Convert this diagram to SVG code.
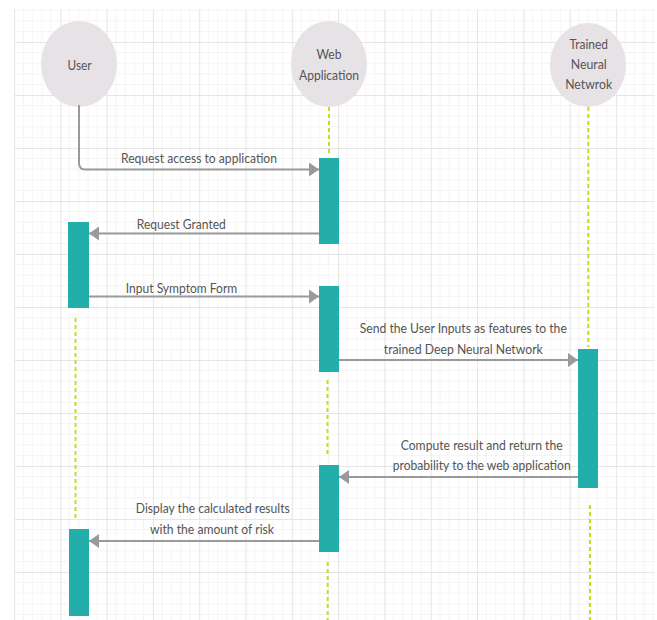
<svg xmlns="http://www.w3.org/2000/svg" width="657" height="620" viewBox="0 0 657 620">
<defs>
<pattern id="grid" patternUnits="userSpaceOnUse" x="14" y="-11" width="46.3" height="53">
<g stroke="#f4f4f4" stroke-width="1">
<line x1="9.26" y1="0" x2="9.26" y2="53"/><line x1="18.52" y1="0" x2="18.52" y2="53"/><line x1="27.78" y1="0" x2="27.78" y2="53"/><line x1="37.04" y1="0" x2="37.04" y2="53"/>
<line x1="0" y1="10.6" x2="46.3" y2="10.6"/><line x1="0" y1="21.2" x2="46.3" y2="21.2"/><line x1="0" y1="31.8" x2="46.3" y2="31.8"/><line x1="0" y1="42.4" x2="46.3" y2="42.4"/>
</g>
<g stroke="#e6e6e6" stroke-width="1.2">
<line x1="0.5" y1="0" x2="0.5" y2="53"/><line x1="0" y1="0.5" x2="46.3" y2="0.5"/>
</g>
</pattern>
<marker id="ah" markerUnits="userSpaceOnUse" markerWidth="10" markerHeight="14" refX="10" refY="7" orient="auto">
<path d="M0,0 L10,7 L0,14 Z" fill="#9a9a9a"/>
</marker>
<style>
.actor{fill:#e7e2e5}
.bar{fill:#24aeaa}
.life{stroke:#c6dc1c;stroke-width:2;stroke-dasharray:4 3;fill:none}
.msg{stroke:#9a9a9a;stroke-width:2;fill:none;marker-end:url(#ah)}
text{font-family:Lato,"Open Sans","Liberation Sans",sans-serif;font-size:14px;fill:#555;text-anchor:middle}
</style>
</defs>
<rect x="0" y="0" width="657" height="620" fill="#fff"/>
<rect x="14" y="9" width="641" height="611" fill="url(#grid)"/>

<g id="lifelines">
<line class="life" x1="329" y1="107" x2="329" y2="156"/>
<line class="life" x1="327.5" y1="380" x2="327.5" y2="456"/>
<line class="life" x1="327.7" y1="562" x2="327.7" y2="620"/>
<line class="life" x1="588.3" y1="107" x2="588.3" y2="347"/>
<line class="life" x1="590" y1="505" x2="590" y2="620"/>
<line class="life" x1="75.5" y1="318" x2="75.5" y2="521"/>
</g>

<g id="user">
<ellipse class="actor" cx="79" cy="64" rx="38" ry="43"/>
<text x="79.5" y="69.5" textLength="24" lengthAdjust="spacingAndGlyphs">User</text>
</g>
<g id="webapp">
<ellipse class="actor" cx="329" cy="64" rx="38" ry="43"/>
<text x="329" y="58.5" textLength="25" lengthAdjust="spacingAndGlyphs">Web</text>
<text x="329" y="80" textLength="60" lengthAdjust="spacingAndGlyphs">Application</text>
</g>
<g id="neuralnet">
<ellipse class="actor" cx="588" cy="65" rx="38" ry="42"/>
<text x="588.7" y="49" textLength="38.5" lengthAdjust="spacingAndGlyphs">Trained</text>
<text x="588.7" y="68.5" textLength="36" lengthAdjust="spacingAndGlyphs">Neural</text>
<text x="588.7" y="88.5" textLength="47" lengthAdjust="spacingAndGlyphs">Netwrok</text>
</g>

<g id="activations">
<rect id="web-act-1" class="bar" x="319" y="158" width="20" height="86"/>
<rect id="user-act-1" class="bar" x="68" y="222" width="21" height="86"/>
<rect id="web-act-2" class="bar" x="319" y="286" width="20" height="86"/>
<rect id="nn-act-1" class="bar" x="578" y="349" width="20" height="139"/>
<rect id="web-act-3" class="bar" x="319" y="465" width="20" height="87"/>
<rect id="user-act-2" class="bar" x="69" y="529" width="20" height="87"/>
</g>

<g id="connectors">
<path class="msg" d="M79,105 V163 Q79,169.5 85.5,169.5 H319"/>
<path class="msg" d="M319,233.5 H89"/>
<path class="msg" d="M89,296.5 H319"/>
<path class="msg" d="M339,360 H578"/>
<path class="msg" d="M578,477 H339"/>
<path class="msg" d="M319,541 H89"/>
</g>

<g id="labels">
<text x="199" y="163" textLength="156" lengthAdjust="spacingAndGlyphs">Request access to application</text>
<text x="181.3" y="229" textLength="89" lengthAdjust="spacingAndGlyphs">Request Granted</text>
<text x="181.5" y="293" textLength="111.5" lengthAdjust="spacingAndGlyphs">Input Symptom Form</text>
<text x="463.3" y="333" textLength="207" lengthAdjust="spacingAndGlyphs">Send the User Inputs as features to the</text>
<text x="463.3" y="353.5" textLength="159" lengthAdjust="spacingAndGlyphs">trained Deep Neural Network</text>
<text x="481.7" y="449.5" textLength="162" lengthAdjust="spacingAndGlyphs">Compute result and return the</text>
<text x="481.7" y="470" textLength="178" lengthAdjust="spacingAndGlyphs">probability to the web application</text>
<text x="212.8" y="513" textLength="154" lengthAdjust="spacingAndGlyphs">Display the calculated results</text>
<text x="212" y="533.5" textLength="124" lengthAdjust="spacingAndGlyphs">with the amount of risk</text>
</g>
</svg>
